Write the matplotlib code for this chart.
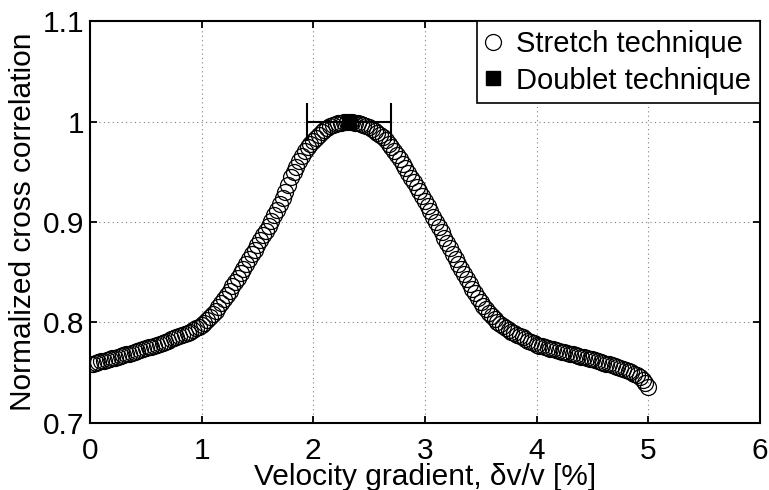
import numpy as np
import matplotlib
matplotlib.use("Agg")
import matplotlib.pyplot as plt

plt.rcParams['font.family'] = ['Liberation Sans', 'DejaVu Sans']

# stretch technique: cross correlation vs trial velocity change (step 0.025 %)
velocity = np.round(np.arange(0, 201) * 0.025, 3)
correlation = [
    0.759, 0.759, 0.760, 0.761, 0.762, 0.762, 0.763, 0.764, 0.765, 0.765,
    0.766, 0.767, 0.768, 0.769, 0.769, 0.770, 0.771, 0.772, 0.773, 0.774,
    0.775, 0.776, 0.776, 0.777, 0.778, 0.779, 0.780, 0.781, 0.782, 0.783,
    0.784, 0.785, 0.786, 0.787, 0.788, 0.789, 0.790, 0.792, 0.794, 0.795,
    0.797, 0.799, 0.802, 0.805, 0.808, 0.811, 0.815, 0.819, 0.823, 0.827,
    0.831, 0.836, 0.840, 0.844, 0.849, 0.853, 0.858, 0.863, 0.868, 0.872,
    0.877, 0.882, 0.887, 0.891, 0.896, 0.901, 0.907, 0.912, 0.918, 0.924,
    0.930, 0.937, 0.945, 0.950, 0.955, 0.961, 0.966, 0.971, 0.975, 0.978,
    0.981, 0.984, 0.987, 0.990, 0.992, 0.994, 0.996, 0.997, 0.998, 0.999,
    0.999, 1.000, 1.000, 1.000, 1.000, 0.999, 0.999, 0.998, 0.997, 0.996,
    0.995, 0.993, 0.991, 0.989, 0.987, 0.985, 0.982, 0.978, 0.975, 0.971,
    0.967, 0.963, 0.958, 0.954, 0.949, 0.944, 0.940, 0.935, 0.931, 0.926,
    0.921, 0.916, 0.911, 0.905, 0.900, 0.895, 0.890, 0.884, 0.879, 0.874,
    0.868, 0.863, 0.858, 0.853, 0.848, 0.843, 0.838, 0.833, 0.829, 0.824,
    0.820, 0.816, 0.813, 0.809, 0.806, 0.803, 0.800, 0.798, 0.796, 0.794,
    0.792, 0.790, 0.789, 0.787, 0.786, 0.785, 0.783, 0.782, 0.781, 0.780,
    0.778, 0.777, 0.777, 0.776, 0.775, 0.774, 0.774, 0.773, 0.772, 0.771,
    0.771, 0.770, 0.769, 0.769, 0.768, 0.767, 0.766, 0.766, 0.765, 0.764,
    0.764, 0.763, 0.762, 0.761, 0.760, 0.759, 0.759, 0.758, 0.757, 0.756,
    0.755, 0.754, 0.753, 0.752, 0.751, 0.749, 0.748, 0.746, 0.743, 0.740,
    0.736,
]

# doublet technique estimate with its uncertainty range
doublet_x = [2.32]
doublet_y = [1.0]
doublet_xerr = [0.38]

x_ticks = [0, 1, 2, 3, 4, 5, 6]
y_ticks = [0.7, 0.8, 0.9, 1.0, 1.1]
y_tick_labels = ['0.7', '0.8', '0.9', '1', '1.1']

fig = plt.figure(figsize=(7.69, 4.90), dpi=100, facecolor='white')
ax = fig.add_axes([0.117, 0.137, 0.871, 0.820])

ax.plot(velocity, correlation, linestyle='none', marker='o', markersize=11.5,
        markerfacecolor='none', markeredgecolor='black', markeredgewidth=0.9,
        label='Stretch technique', zorder=3)

ax.errorbar(doublet_x, doublet_y, xerr=doublet_xerr, fmt='none', ecolor='black',
            elinewidth=1.5, capsize=13.5, capthick=1.5, zorder=4)
ax.plot(doublet_x, doublet_y, linestyle='none', marker='s', markersize=10,
        color='black', label='Doublet technique', zorder=5)

ax.set_xlim(0, 6)
ax.set_ylim(0.7, 1.1)
ax.set_xticks(x_ticks)
ax.set_xticklabels([str(t) for t in x_ticks])
ax.set_yticks(y_ticks)
ax.set_yticklabels(y_tick_labels)

ax.grid(True, color='0.5', linestyle=(0, (1, 3)), linewidth=0.8)
ax.set_axisbelow(True)

ax.tick_params(direction='in', length=5, width=1.3, labelsize=21.5,
               top=True, right=True)
ax.tick_params(axis='x', pad=10)
ax.tick_params(axis='y', pad=4)
for s in ax.spines.values():
    s.set_linewidth(1.5)

ax.set_xlabel(r'Velocity gradient, δv/v [%]', fontsize=21.5, labelpad=-1)
ax.set_ylabel('Normalized cross correlation', fontsize=21.5, labelpad=4)

leg = ax.legend(loc='upper right', fontsize=21, frameon=True, fancybox=False,
                borderaxespad=0, borderpad=0.3, handlelength=0.5,
                handletextpad=0.55, labelspacing=0.3, framealpha=1,
                markerscale=1.0)
leg.get_frame().set_edgecolor('black')
leg.get_frame().set_linewidth(1.2)

fig.savefig('out.png', dpi=100, facecolor='white')
